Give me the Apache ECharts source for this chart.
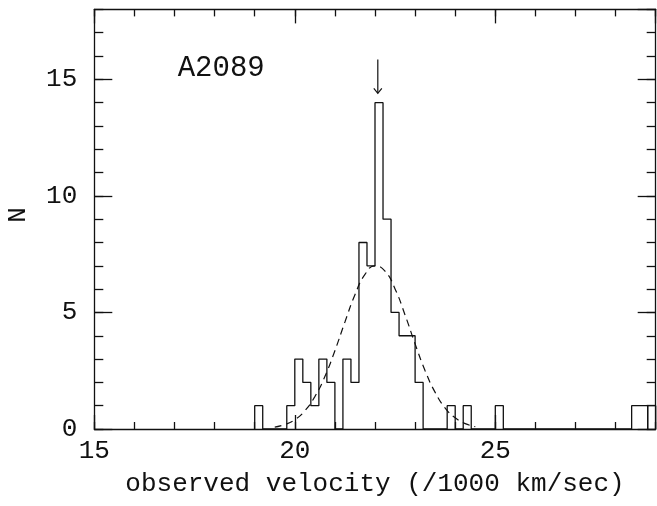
<!DOCTYPE html>
<html>
<head>
<meta charset="utf-8">
<script src="https://cdn.jsdelivr.net/npm/echarts@6/dist/echarts.min.js"></script>
<style>
  html, body { margin: 0; padding: 0; background: #ffffff; }
  #chart { width: 657px; height: 506px; }
</style>
</head>
<body>
<div id="chart"></div>
<script>
// Velocity histogram of cluster A2089 (units of 1000 km/s), bins of 0.2
const binStart = 19.0;
const binWidth = 0.2;
const counts = [
  1, 0, 0, 0, 1, 3, 2, 1, 3, 2,      // 19.0 .. 20.8
  0, 3, 2, 8, 7, 14, 9, 5, 4, 4,     // 21.0 .. 22.8
  2, 0, 0, 0, 1, 0, 1, 0, 0, 0,      // 23.0 .. 24.8
  1, 0, 0, 0, 0, 0, 0, 0, 0, 0,      // 25.0 .. 26.8
  0, 0, 0, 0, 0, 0, 0, 1, 1          // 27.0 .. 28.6
];
// last bin at the right edge of the range
const edgeBinStart = 28.8;
const edgeBinCount = 1;

// Gaussian fit (dashed)
const fitX = [19.5, 19.75, 20.0, 20.25, 20.5, 20.75, 21.0, 21.25, 21.5, 21.75, 22.0,
              22.25, 22.5, 22.75, 23.0, 23.25, 23.5, 23.75, 24.0, 24.25, 24.5];
const fitY = [0.08, 0.19, 0.40, 0.78, 1.39, 2.25, 3.36, 4.59, 5.76, 6.63, 7.0,
              6.77, 6.01, 4.89, 3.65, 2.50, 1.57, 0.90, 0.48, 0.23, 0.10];

// Marker arrow above the peak
const arrowX = 22.07;
const arrowTop = 15.85;
const arrowTip = 14.4;

const clusterName = 'A2089';
const clusterLabelPos = [17.08, 15.47];

const xTitle = 'observed velocity (/1000 km/sec)';
const yTitle = 'N';

const xMin = 15, xMax = 29, xMajor = 5, xMinor = 1;
const yMin = 0, yMax = 18, yMajor = 5, yMinor = 1;

// ---- build histogram outline from the bin counts ----
const r = v => Math.round(v * 1000) / 1000;
const outline = [[binStart, 0]];
counts.forEach((c, i) => {
  const lo = r(binStart + i * binWidth);
  const hi = r(binStart + (i + 1) * binWidth);
  outline.push([lo, c], [hi, c]);
});
outline.push([r(binStart + counts.length * binWidth), 0]);

const edgeBox = [
  [edgeBinStart, 0], [edgeBinStart, edgeBinCount],
  [r(edgeBinStart + binWidth), edgeBinCount], [r(edgeBinStart + binWidth), 0]
];

const fit = fitX.map((x, i) => [x, fitY[i]]);

const INK = '#111';
const FONT = 'Liberation Mono';
const lineStyle = { color: INK, width: 1.3 };

function xAxis(position, interval, tickLen, withLine, withLabels) {
  return {
    type: 'value', position, min: xMin, max: xMax, interval,
    axisLine: { show: withLine, onZero: false, lineStyle },
    axisTick: { show: true, inside: true, length: tickLen, lineStyle },
    axisLabel: withLabels ? {
      show: true, margin: 9, color: INK, fontFamily: FONT, fontSize: 26,
      showMaxLabel: false
    } : { show: false },
    splitLine: { show: false }
  };
}
function yAxis(position, interval, tickLen, withLine, withLabels) {
  return {
    type: 'value', position, min: yMin, max: yMax, interval,
    axisLine: { show: withLine, onZero: false, lineStyle },
    axisTick: { show: true, inside: true, length: tickLen, lineStyle },
    axisLabel: withLabels ? {
      show: true, margin: 17, color: INK, fontFamily: FONT, fontSize: 26,
      showMaxLabel: false
    } : { show: false },
    splitLine: { show: false }
  };
}

const chart = echarts.init(document.getElementById('chart'), null, { renderer: 'canvas' });

chart.setOption({
  animation: false,
  backgroundColor: '#ffffff',
  grid: { left: 94.3, right: 1.3, top: 9.4, bottom: 77, containLabel: false, outerBoundsMode: 'none' },
  xAxis: [
    xAxis('bottom', xMajor, 14, true, true),
    xAxis('bottom', xMinor, 7, false, false),
    xAxis('top', xMajor, 14, true, false),
    xAxis('top', xMinor, 7, false, false)
  ],
  yAxis: [
    yAxis('left', yMajor, 18, true, true),
    yAxis('left', yMinor, 9, false, false),
    yAxis('right', yMajor, 18, true, false),
    yAxis('right', yMinor, 9, false, false)
  ],
  graphic: [
    {
      type: 'text', x: 375, y: 484,
      style: { text: xTitle, fill: INK, font: '26px "' + FONT + '"', align: 'center', verticalAlign: 'middle' }
    },
    {
      type: 'text', x: 18, y: 215, rotation: Math.PI / 2,
      style: { text: yTitle, fill: INK, font: '26px "' + FONT + '"', align: 'center', verticalAlign: 'middle' }
    }
  ],
  series: [
    {
      name: 'histogram', type: 'line', data: outline,
      symbol: 'none', lineStyle: { color: INK, width: 1.3 }, z: 3
    },
    {
      name: 'edge bin', type: 'line', data: edgeBox,
      symbol: 'none', lineStyle: { color: INK, width: 1.3 }, z: 3
    },
    {
      name: 'fit', type: 'line', data: fit, smooth: true,
      symbol: 'none', lineStyle: { color: INK, width: 1.2, type: [7, 5] }, z: 2
    },
    {
      name: 'label', type: 'scatter', data: [clusterLabelPos], symbolSize: 0,
      itemStyle: { opacity: 1 },
      label: {
        show: true, position: [0, 0], align: 'left', verticalAlign: 'middle',
        formatter: clusterName, color: INK, opacity: 1, fontFamily: FONT, fontSize: 29
      },
      silent: true, z: 4
    },
    {
      name: 'arrow', type: 'custom', data: [[arrowX, arrowTop, arrowTip]],
      renderItem: (params, api) => {
        const top = api.coord([api.value(0), api.value(1)]);
        const tip = api.coord([api.value(0), api.value(2)]);
        const st = { stroke: INK, lineWidth: 1.2, fill: 'none' };
        return {
          type: 'group',
          children: [
            { type: 'polyline', shape: { points: [top, tip] }, style: st },
            { type: 'polyline', shape: { points: [[tip[0] - 4, tip[1] - 5], tip, [tip[0] + 4, tip[1] - 5]] }, style: st }
          ]
        };
      },
      z: 4
    }
  ]
});
</script>
</body>
</html>
